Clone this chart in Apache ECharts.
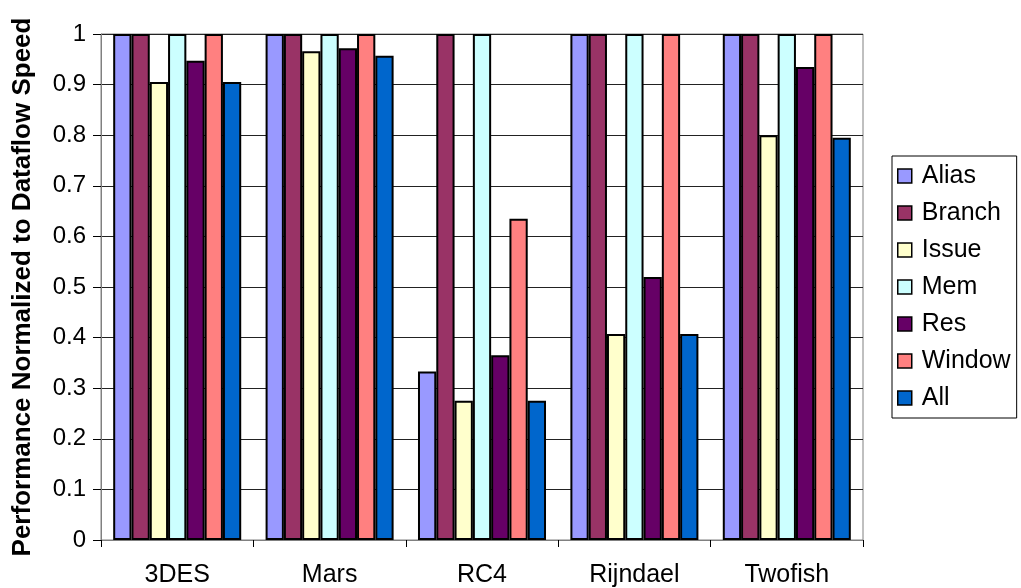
<!DOCTYPE html>
<html><head><meta charset="utf-8">
<script src="https://cdn.jsdelivr.net/npm/echarts@6/dist/echarts.min.js"></script>
<style>html,body{margin:0;padding:0;background:#fff}#c{width:1021px;height:588px}</style>
</head><body><div id="c"></div>
<script>
const categories = ['3DES', 'Mars', 'RC4', 'Rijndael', 'Twofish'];
const seriesNames = ['Alias', 'Branch', 'Issue', 'Mem', 'Res', 'Window', 'All'];
const alias  = [1, 1, 0.333, 1, 1];
const branch = [1, 1, 1, 1, 1];
const issue  = [0.905, 0.966, 0.275, 0.407, 0.8];
const mem    = [1, 1, 1, 1, 1];
const res    = [0.947, 0.972, 0.365, 0.52, 0.935];
const windowV= [1, 1, 0.635, 1, 1];
const all    = [0.905, 0.957, 0.275, 0.407, 0.795];
const colors = ['#9999FF', '#993366', '#FFFFCC', '#CCFFFF', '#660066', '#FF8080', '#0066CC'];
const dataSets = [alias, branch, issue, mem, res, windowV, all];

const FONT = 'Liberation Sans, Arial, sans-serif';
const chart = echarts.init(document.getElementById('c'));
chart.setOption({
  animation: false,
  backgroundColor: '#fff',
  grid: { left: 101, right: 158, top: 34, bottom: 47, show: true, borderColor: '#808080', borderWidth: 1 },
  legend: {
    orient: 'vertical', left: 892, top: 156,
    padding: [7, 6, 7, 5],
    borderColor: '#000', borderWidth: 1,
    itemWidth: 14, itemHeight: 14, itemGap: 11,
    icon: 'rect',
    itemStyle: { borderColor: '#000', borderWidth: 1.5 },
    textStyle: { fontFamily: FONT, fontSize: 25, color: '#000', lineHeight: 26, padding: [0, 0, 0, 5] },
    data: seriesNames
  },
  xAxis: {
    type: 'category', data: categories,
    axisLine: { lineStyle: { color: '#808080' } },
    axisTick: { show: true, length: 7, lineStyle: { color: '#000' } },
    axisLabel: { fontFamily: FONT, fontSize: 25, color: '#000', margin: 23 }
  },
  yAxis: {
    type: 'value', min: 0, max: 1, interval: 0.1,
    name: 'Performance Normalized to Dataflow Speed',
    nameLocation: 'middle', nameGap: 65, nameRotate: 90,
    nameTextStyle: { fontFamily: FONT, fontSize: 26, fontWeight: 'bold', color: '#000' },
    axisLine: { show: true, lineStyle: { color: '#808080' } },
    axisTick: { show: true, length: 8, lineStyle: { color: '#000' } },
    axisLabel: { fontFamily: FONT, fontSize: 24, color: '#000', margin: 15 },
    splitLine: { lineStyle: { color: '#222', width: 1 } }
  },
  series: seriesNames.map((n, i) => ({
    name: n, type: 'bar', data: dataSets[i],
    barGap: '0%', barCategoryGap: '16%',
    itemStyle: { color: colors[i], borderColor: '#000', borderWidth: 2 }
  }))
});
</script></body></html>
